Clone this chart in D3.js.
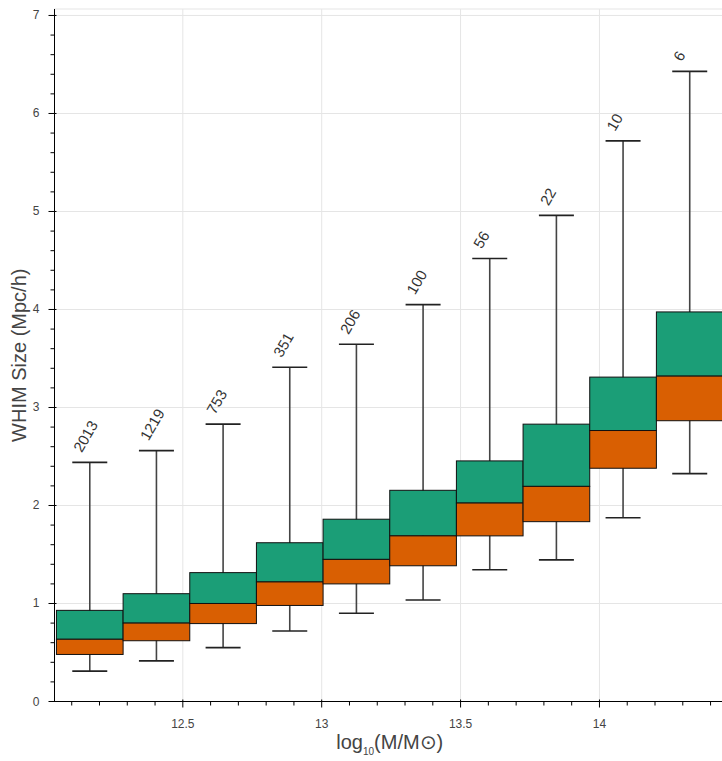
<!DOCTYPE html>
<html>
<head>
<meta charset="utf-8">
<script src="https://cdn.jsdelivr.net/npm/d3@7"></script>
<style>
  body { margin: 0; background: #fff; }
  svg { display: block; font-family: "Liberation Sans", Arial, Helvetica, sans-serif; }
</style>
</head>
<body>
<div class="vis-holder"></div>
<script>
// halo mass bins (log10 M) and number of haloes in each
var binCenters = [12.165, 12.405, 12.645, 12.885, 13.125, 13.365, 13.605, 13.845, 14.085, 14.325];
var counts = [2013, 1219, 753, 351, 206, 100, 56, 22, 10, 6];
// box statistics of the WHIM size
var whiskerHigh = [2.44, 2.56, 2.83, 3.41, 3.645, 4.05, 4.52, 4.96, 5.72, 6.43];
var q3 = [0.93, 1.10, 1.315, 1.62, 1.86, 2.155, 2.455, 2.83, 3.31, 3.975];
var median = [0.635, 0.80, 1.00, 1.22, 1.45, 1.69, 2.025, 2.195, 2.765, 3.32];
var q1 = [0.48, 0.62, 0.795, 0.98, 1.20, 1.385, 1.69, 1.835, 2.38, 2.865];
var whiskerLow = [0.31, 0.415, 0.55, 0.72, 0.90, 1.035, 1.345, 1.445, 1.875, 2.325];
var binWidth = 0.24;

var xTicks = [12.5, 13, 13.5, 14];
var yTicks = [0, 1, 2, 3, 4, 5, 6, 7];

var data = binCenters.map(function(c, i) {
  return { x: c, n: counts[i], hi: whiskerHigh[i], q3: q3[i], med: median[i], q1: q1[i], lo: whiskerLow[i] };
});

// svg width / height
var width = 722;
var height = 761;
// plot frame
var frame = { left: 54.5, right: 725, top: 9, bottom: 701.5 };

var svg = d3.select(".vis-holder")
      .append('svg')
      .attr('width', width)
      .attr('height', height);

var xScale = d3.scaleLinear()
      .domain([12.038, 14.452])
      .range([frame.left, frame.right]);

var yScale = d3.scaleLinear()
      .domain([0, 7.066])
      .range([frame.bottom, frame.top]);

// grid
var grid = svg.append('g').attr('class', 'grid');
grid.selectAll('.gx').data(xTicks).enter().append('line')
    .attr('x1', function(d){ return xScale(d); })
    .attr('x2', function(d){ return xScale(d); })
    .attr('y1', frame.top).attr('y2', frame.bottom)
    .attr('stroke', '#e5e5e5').attr('stroke-width', 1);
grid.selectAll('.gy').data(yTicks.slice(1)).enter().append('line')
    .attr('x1', frame.left).attr('x2', frame.right)
    .attr('y1', function(d){ return yScale(d); })
    .attr('y2', function(d){ return yScale(d); })
    .attr('stroke', '#e5e5e5').attr('stroke-width', 1);

// frame outline
svg.append('rect')
    .attr('x', frame.left).attr('y', frame.top)
    .attr('width', frame.right - frame.left)
    .attr('height', frame.bottom - frame.top)
    .attr('fill', 'none').attr('stroke', '#e5e5e5');

// whiskers
var boxes = svg.append('g').attr('class', 'boxes');
boxes.selectAll('.stem').data(data).enter().append('line')
    .attr('x1', function(d){ return xScale(d.x); })
    .attr('x2', function(d){ return xScale(d.x); })
    .attr('y1', function(d){ return yScale(d.lo); })
    .attr('y2', function(d){ return yScale(d.hi); })
    .attr('stroke', '#444').attr('stroke-width', 1.6);

var capHalf = 0.063;
['hi', 'lo'].forEach(function(k) {
  boxes.selectAll('.cap-' + k).data(data).enter().append('line')
      .attr('x1', function(d){ return xScale(d.x - capHalf); })
      .attr('x2', function(d){ return xScale(d.x + capHalf); })
      .attr('y1', function(d){ return yScale(d[k]); })
      .attr('y2', function(d){ return yScale(d[k]); })
      .attr('stroke', '#222').attr('stroke-width', 1.6);
});

// upper box (median to q3)
boxes.selectAll('.upper').data(data).enter().append('rect')
    .attr('x', function(d){ return xScale(d.x - binWidth / 2); })
    .attr('width', function(d){ return xScale(d.x + binWidth / 2) - xScale(d.x - binWidth / 2); })
    .attr('y', function(d){ return yScale(d.q3); })
    .attr('height', function(d){ return yScale(d.med) - yScale(d.q3); })
    .attr('fill', '#1b9e77').attr('stroke', '#111').attr('stroke-width', 1);

// lower box (q1 to median)
boxes.selectAll('.lower').data(data).enter().append('rect')
    .attr('x', function(d){ return xScale(d.x - binWidth / 2); })
    .attr('width', function(d){ return xScale(d.x + binWidth / 2) - xScale(d.x - binWidth / 2); })
    .attr('y', function(d){ return yScale(d.med); })
    .attr('height', function(d){ return yScale(d.q1) - yScale(d.med); })
    .attr('fill', '#d95f02').attr('stroke', '#111').attr('stroke-width', 1);

// counts above the whiskers
boxes.selectAll('.count').data(data).enter().append('text')
    .attr('transform', function(d){
      return 'translate(' + (xScale(d.x) - 8) + ',' + (yScale(d.hi) - 9) + ') rotate(-60)';
    })
    .attr('text-anchor', 'start')
    .attr('font-size', 15)
    .attr('fill', '#333')
    .text(function(d){ return d.n; });

// axes
var xMinor = d3.range(121, 145).map(function(v){ return v / 10; }).filter(function(v){ return Math.round(v * 10) % 5 !== 0; });
var yMinor = d3.range(0, 36).map(function(v){ return v / 5; }).filter(function(v){ return Math.round(v * 5) % 5 !== 0 && v < 7.06; });

var xAxis = svg.append('g').attr('class', 'x axis');
xAxis.append('line')
    .attr('x1', frame.left).attr('x2', frame.right)
    .attr('y1', frame.bottom).attr('y2', frame.bottom)
    .attr('stroke', '#000');
xAxis.selectAll('.major').data(xTicks).enter().append('line')
    .attr('x1', function(d){ return xScale(d); }).attr('x2', function(d){ return xScale(d); })
    .attr('y1', frame.bottom - 2).attr('y2', frame.bottom + 6)
    .attr('stroke', '#000');
xAxis.selectAll('.minor').data(xMinor).enter().append('line')
    .attr('x1', function(d){ return xScale(d); }).attr('x2', function(d){ return xScale(d); })
    .attr('y1', frame.bottom).attr('y2', frame.bottom + 4)
    .attr('stroke', '#000');
xAxis.selectAll('text').data(xTicks).enter().append('text')
    .attr('x', function(d){ return xScale(d); })
    .attr('y', frame.bottom + 26)
    .attr('text-anchor', 'middle')
    .attr('font-size', 12)
    .attr('fill', '#444')
    .text(function(d){ return d; });

var yAxis = svg.append('g').attr('class', 'y axis');
yAxis.append('line')
    .attr('x1', frame.left).attr('x2', frame.left)
    .attr('y1', frame.top).attr('y2', frame.bottom)
    .attr('stroke', '#000');
yAxis.selectAll('.major').data(yTicks).enter().append('line')
    .attr('x1', frame.left - 6).attr('x2', frame.left + 2)
    .attr('y1', function(d){ return yScale(d); }).attr('y2', function(d){ return yScale(d); })
    .attr('stroke', '#000');
yAxis.selectAll('.minor').data(yMinor).enter().append('line')
    .attr('x1', frame.left - 4).attr('x2', frame.left)
    .attr('y1', function(d){ return yScale(d); }).attr('y2', function(d){ return yScale(d); })
    .attr('stroke', '#000');
yAxis.selectAll('text').data(yTicks).enter().append('text')
    .attr('x', frame.left - 15)
    .attr('y', function(d){ return yScale(d) + 4; })
    .attr('text-anchor', 'end')
    .attr('font-size', 12)
    .attr('fill', '#444')
    .text(function(d){ return d; });

// axis titles
var xTitle = svg.append('text')
    .attr('x', (frame.left + frame.right) / 2)
    .attr('y', 749)
    .attr('text-anchor', 'middle')
    .attr('font-size', 20)
    .attr('fill', '#444');
xTitle.append('tspan').text('log');
xTitle.append('tspan').attr('font-size', 10).attr('dy', 6).text('10');
xTitle.append('tspan').attr('dy', -6).text('(M/M\u2299)');

svg.append('text')
    .attr('transform', 'translate(26,' + ((frame.top + frame.bottom) / 2) + ') rotate(-90)')
    .attr('text-anchor', 'middle')
    .attr('font-size', 20)
    .attr('fill', '#444')
    .text('WHIM Size (Mpc/h)');
</script>
</body>
</html>
